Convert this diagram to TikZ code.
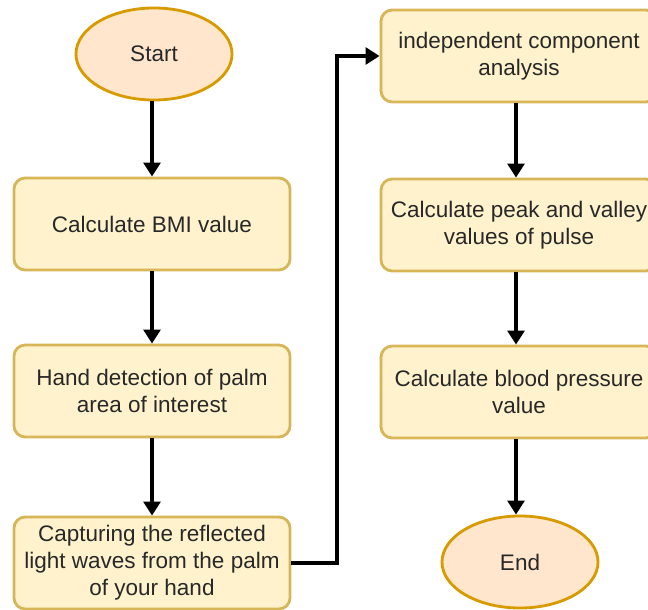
\documentclass[tikz,border=0pt]{standalone}
\usepackage{fontspec}
\setmainfont{Liberation Sans}
\usetikzlibrary{shapes.geometric, arrows.meta, positioning}
\definecolor{stepfill}{HTML}{FFF2CC}
\definecolor{stepdraw}{HTML}{D6B656}
\definecolor{termfill}{HTML}{FFE6CC}
\definecolor{termdraw}{HTML}{D79B00}
\definecolor{txtgray}{RGB}{40, 40, 40}
\tikzset{
  stepbox/.style  = {rectangle, rounded corners=8pt, draw=stepdraw, fill=stepfill, line width=2pt, minimum width=6.9cm, minimum height=2.3cm, align=center, text=txtgray, font=\fontsize{16}{19.2}\selectfont},
  terminal/.style = {ellipse, draw=termdraw, fill=termfill, line width=2pt, minimum width=3.9cm, minimum height=2.3cm, inner sep=0pt, text=txtgray, font=\fontsize{16}{19.2}\selectfont},
  flow/.style     = {-{Triangle[length=10pt, width=12pt]}, line width=2.8pt, black},
}
\begin{document}
\begin{tikzpicture}[x=0.025cm, y=-0.025cm]
\useasboundingbox (0,0) rectangle (648,609);
\clip (0,0) rectangle (648,609);

% left column
\node[terminal] (start) at (154, 54) {Start};
\node[stepbox] (bmi) at (152, 224) {Calculate BMI value};
\node[stepbox] (hand) at (152, 391) {Hand detection of palm\\area of interest};
\node[stepbox] (capture) at (152, 563) {Capturing the reflected\\light waves from the palm\\of your hand};

% right column
\node[stepbox] (ica) at (519, 56) {independent component\\analysis};
\node[stepbox] (peak) at (519, 225) {Calculate peak and valley\\values of pulse};
\node[stepbox] (bp) at (519, 392) {Calculate blood pressure\\value};
\node[terminal] (end) at (520, 562) {End};

% arrows
\draw[flow] (bmi.north |- start.south) -- (bmi);
\draw[flow] (bmi) -- (hand);
\draw[flow] (hand) -- (capture);
\draw[flow] (capture.east) -- ++(46,0) |- (ica.west);
\draw[flow] (ica.south -| 516,0) -- (peak.north -| 516,0);
\draw[flow] (peak.south -| 516,0) -- (bp.north -| 516,0);
\draw[flow] (bp.south -| 516,0) -- (end.north -| 516,0);

\end{tikzpicture}
\end{document}
